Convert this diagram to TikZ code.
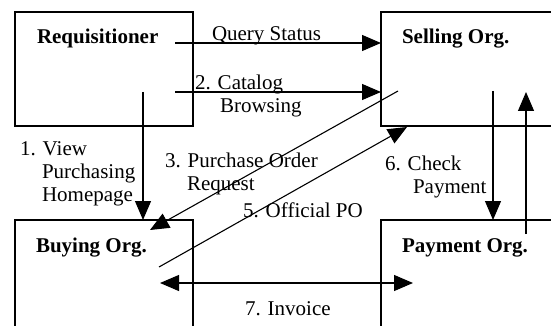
\documentclass[tikz,border=0pt]{standalone}
\usepackage{fontspec}
\setmainfont{Liberation Serif}
\usetikzlibrary{arrows.meta}
\begin{document}
\begin{tikzpicture}[x=1pt,y=-1pt,
  box/.style={draw,line width=1.2pt,rectangle,inner sep=0pt,outer sep=0pt},
  lbl/.style={inner sep=0pt,outer sep=0pt,anchor=base west,align=left,font=\fontsize{21}{23}\selectfont},
  blbl/.style={inner sep=0pt,outer sep=0pt,anchor=base west,font=\fontsize{21}{23}\selectfont\bfseries},
  arr/.style={line width=1.1pt,-{Triangle[length=19pt,width=16pt]}},
  darr/.style={line width=1.1pt,{Triangle[length=19pt,width=16pt]}-{Triangle[length=19pt,width=16pt]}}]
\useasboundingbox (0,0) rectangle (551,326);
\clip (0,0) rectangle (551,326);
% boxes
\node[box,minimum width=178pt,minimum height=114pt] (req) at (104,69) {};
\node[box,minimum width=219pt,minimum height=114pt] (sell) at (490.5,69) {};
\node[box,minimum width=178pt,minimum height=180pt] (buy) at (104,310) {};
\node[box,minimum width=219pt,minimum height=180pt] (pay) at (490.5,310) {};
% box titles
\node[blbl] (reqt) at (37,44) {Requisitioner};
\node[blbl] (sellt) at (402,44) {Selling Org.};
\node[blbl] (buyt) at (36,252) {Buying Org.};
\node[blbl] (payt) at (402,252) {Payment Org.};
% connector ends
\coordinate (qsA) at (175,43);
\coordinate (caA) at (175,92);
\coordinate (vA) at (143,92);
\coordinate (p3A) at (398,91);
\coordinate (p3B) at (150,230);
\coordinate (p5A) at (159,267);
\coordinate (p5B) at (407,127);
\coordinate (c6A) at (493,91);
\coordinate (c6B) at (526,234);
\coordinate (c6C) at (526,92);
\coordinate (inA) at (160,283);
\coordinate (inB) at (413,283);
% connectors
\draw[arr] (qsA) -- (qsA -| sell.west);
\draw[arr] (caA) -- (caA -| sell.west);
\draw[arr] (vA) -- (vA |- buy.north);
\draw[arr] (p3A) -- (p3B);
\draw[arr] (p5A) -- (p5B);
\draw[arr] (c6A) -- (c6A |- pay.north);
\draw[arr] (c6B) -- (c6C);
\draw[darr] (inA) -- (inB);
% labels (base = baseline of last line)
\node[lbl] (l0) at (212,41) {Query Status};
\node[lbl] (l2) at (195,113) {2. Catalog\\\hspace*{25pt}Browsing};
\node[lbl] (l1) at (20,201) {1. View\\\hspace*{22pt}Purchasing\\\hspace*{22pt}Homepage};
\node[lbl] (l3) at (165,190) {3. Purchase Order\\\hspace*{22pt}Request};
\node[lbl] (l5) at (243,217) {5. Official PO};
\node[lbl] (l6) at (385,193) {6. Check\\\hspace*{28pt}Payment};
\node[lbl] (l7) at (245,315) {7. Invoice};
\end{tikzpicture}
\end{document}
